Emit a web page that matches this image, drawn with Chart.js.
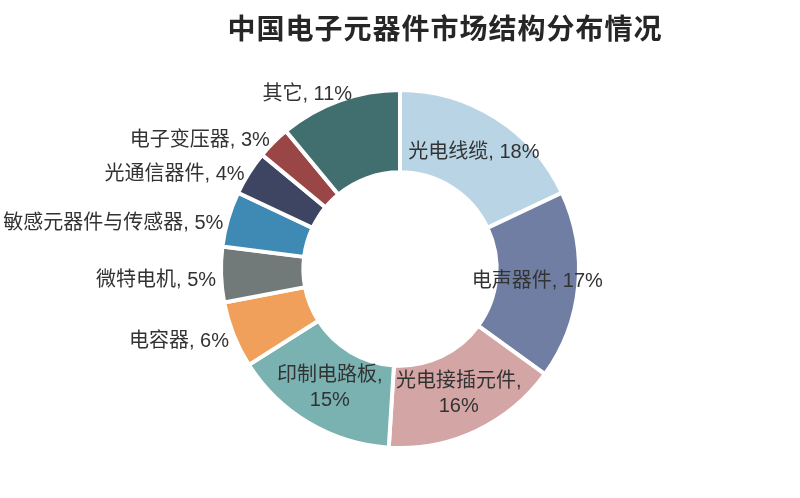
<!DOCTYPE html>
<html>
<head>
<meta charset="utf-8">
<script src="https://cdn.jsdelivr.net/npm/chart.js@4/dist/chart.umd.min.js"></script>
<style>
  html, body { margin: 0; padding: 0; background: #fff; }
  #wrap { width: 800px; height: 498px; }
</style>
</head>
<body>
<div id="wrap"><canvas id="c" width="800" height="498"></canvas></div>
<script>
const titleText = '中国电子元器件市场结构分布情况';
const categories = ['光电线缆', '电声器件', '光电接插元件', '印制电路板', '电容器', '微特电机', '敏感元器件与传感器', '光通信器件', '电子变压器', '其它'];
const values = [18, 17, 16, 15, 6, 5, 5, 4, 3, 11];
const colors = ['#b9d4e5', '#717ea3', '#d4a5a5', '#7ab1b1', '#f0a05a', '#717a78', '#3f8ab4', '#3d4562', '#9b4646', '#416f6f'];

const FONT = '"Liberation Sans", "Noto Sans CJK SC", sans-serif';

const labelPlugin = {
  id: 'labels',
  beforeDraw(chart) {
    const ctx = chart.ctx;
    ctx.save();
    ctx.fillStyle = '#fff';
    ctx.fillRect(0, 0, chart.width, chart.height);
    ctx.restore();
  },
  afterDraw(chart) {
    const ctx = chart.ctx;
    ctx.save();
    // title
    ctx.font = 'bold 28px "Noto Sans CJK SC", sans-serif';
    try { ctx.letterSpacing = '1px'; } catch (e) {}
    ctx.fillStyle = '#262626';
    ctx.textAlign = 'center';
    ctx.textBaseline = 'middle';
    ctx.fillText(titleText, 445, 28);
    try { ctx.letterSpacing = '0px'; } catch (e) {}

    const meta = chart.getDatasetMeta(0);
    const total = values.reduce((a, b) => a + b, 0);
    ctx.font = '20px ' + FONT;
    ctx.fillStyle = '#333';
    meta.data.forEach((arc, i) => {
      const p = arc.getProps(['x', 'y', 'startAngle', 'endAngle', 'innerRadius', 'outerRadius'], true);
      const mid = (p.startAngle + p.endAngle) / 2;
      const dx = Math.cos(mid), dy = Math.sin(mid);
      const pct = Math.round(values[i] / total * 100) + '%';
      const text = categories[i] + ', ' + pct;
      const w = ctx.measureText(text).width;
      if (values[i] >= 15) {
        const r = (p.innerRadius + p.outerRadius) / 2;
        const cx = p.x + dx * r, cy = p.y + dy * r;
        ctx.textAlign = 'center';
        ctx.textBaseline = 'middle';
        if (w > 145) {
          ctx.fillText(categories[i] + ',', cx, cy - 12);
          ctx.fillText(pct, cx, cy + 13);
        } else {
          ctx.fillText(text, cx, cy);
        }
      } else {
        const r = p.outerRadius + 5;
        const px = p.x + dx * r, py = p.y + dy * r;
        const f = Math.max(0, Math.min(1, 0.5 - dx));
        const left = px - f * w;
        const cy = py + 6 - 8 * dy * dy;
        ctx.textAlign = 'left';
        ctx.textBaseline = 'middle';
        ctx.fillText(text, left, cy);
      }
    });
    ctx.restore();
  }
};

new Chart(document.getElementById('c'), {
  type: 'doughnut',
  data: {
    labels: categories,
    datasets: [{
      data: values,
      backgroundColor: colors,
      borderColor: '#ffffff',
      borderWidth: 4,
      hoverOffset: 0,
      offset: 0
    }]
  },
  options: {
    responsive: false,
    animation: false,
    cutout: '54%',
    layout: { padding: { top: 88, bottom: 48, left: 0, right: 0 } },
    plugins: {
      legend: { display: false },
      title: { display: false },
      tooltip: { enabled: false }
    }
  },
  plugins: [labelPlugin]
});
</script>
</body>
</html>
